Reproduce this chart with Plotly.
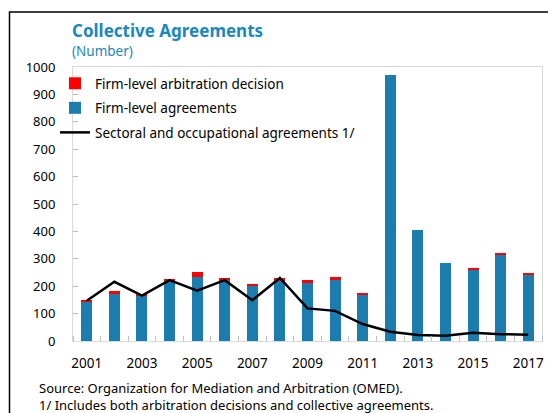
import plotly.graph_objects as go

years = list(range(2001, 2018))
firm_agreements = [144, 173, 166, 219, 233, 223, 202, 220, 212, 224, 167, 971, 406, 284, 262, 316, 241]
arbitration = [5, 11, 3, 5, 18, 6, 5, 9, 12, 11, 10, 0, 0, 0, 2, 4, 4]
sectoral = [147, 216, 166, 222, 184, 222, 149, 230, 119, 110, 62, 34, 22, 19, 30, 25, 23]

FONT = "Noto Sans"
TITLE_BLUE = "#1a87bd"
BAR_BLUE = "#1a7dae"

fig = go.Figure()
fig.add_trace(go.Bar(x=years, y=firm_agreements, name="Firm-level agreements",
                     marker=dict(color=BAR_BLUE, line_width=0), width=0.4,
                     legendrank=2, legendgroup="b"))
fig.add_trace(go.Bar(x=years, y=arbitration, name="Firm-level arbitration decision",
                     marker=dict(color="#ff0000", line_width=0), width=0.4,
                     legendrank=1, legendgroup="a"))
fig.add_trace(go.Scatter(x=years, y=sectoral, mode="lines",
                         name="Sectoral and occupational agreements 1/",
                         line=dict(color="black", width=2.5), legendrank=3, legendgroup="c"))

# the page body has an 8px margin, so everything is placed in page pixels minus 8
OFF = 8
W, H = 556 - OFF, 413 - OFF
L, R, T, B = 73 - OFF, 542 - OFF, 67 - OFF, 341 - OFF
pw, ph = R - L, B - T


def px(x):
    return (x - OFF - L) / pw


def py(y):
    return (B - (y - OFF)) / ph


fig.update_layout(
    width=W, height=H,
    margin=dict(l=L, r=W - R, t=T, b=H - B),
    paper_bgcolor="white", plot_bgcolor="white",
    barmode="stack", bargap=0.6,
    font=dict(family=FONT, size=13, color="black"),
    showlegend=True,
    legend=dict(x=px(55), y=py(68), xanchor="left", yanchor="top",
                traceorder="grouped", font=dict(size=13.5),
                bgcolor="rgba(0,0,0,0)", itemwidth=30, tracegroupgap=4),
    xaxis=dict(range=[2000.5, 2017.5], tickmode="linear", tick0=2001, dtick=2,
               ticks="", showgrid=False, zeroline=False,
               showline=True, linecolor="#d9d9d9", linewidth=1, mirror=True,
               tickfont=dict(size=13.5), ticklabelstandoff=10,
               minor=dict(ticks="inside", tickmode="linear", tick0=2000.5, dtick=1,
                          ticklen=5, tickcolor="#bfbfbf", showgrid=False)),
    yaxis=dict(range=[0, 1000], tickmode="linear", tick0=0, dtick=100,
               ticks="inside", ticklen=5, tickcolor="#bfbfbf",
               showgrid=False, zeroline=False,
               showline=True, linecolor="#d9d9d9", linewidth=1, mirror=True,
               tickfont=dict(size=13), ticklabelstandoff=14),
)

fig.add_annotation(text="<b>Collective Agreements</b>", xref="paper", yref="paper",
                   x=px(70), y=py(30), xanchor="left", yanchor="middle", showarrow=False,
                   font=dict(size=17, color=TITLE_BLUE))
fig.add_annotation(text="(Number)", xref="paper", yref="paper",
                   x=px(70), y=py(51), xanchor="left", yanchor="middle", showarrow=False,
                   font=dict(size=13.5, color=TITLE_BLUE))
fig.add_annotation(text="Source: Organization for Mediation and Arbitration (OMED).",
                   xref="paper", yref="paper", x=px(37), y=py(388),
                   xanchor="left", yanchor="middle", showarrow=False, font=dict(size=13))
fig.add_annotation(text="1/ Includes both arbitration decisions and collective agreements.",
                   xref="paper", yref="paper", x=px(37), y=py(405),
                   xanchor="left", yanchor="middle", showarrow=False, font=dict(size=13))

# outer frame (left and top edges visible)
fig.add_shape(type="rect", xref="paper", yref="paper",
              x0=px(9.5), x1=px(600), y0=py(460), y1=py(12),
              line=dict(color="black", width=1.5), layer="above")

fig.write_html("out.html")
